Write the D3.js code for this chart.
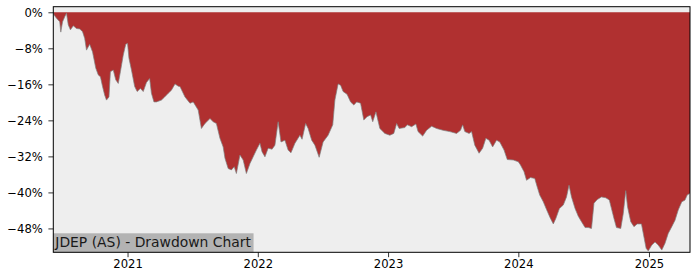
<!DOCTYPE html>
<html>
<head>
<meta charset="utf-8">
<script src="https://cdn.jsdelivr.net/npm/d3@7"></script>
<style>
  body { margin: 0; background: #fff; }
  text { font-family: "DejaVu Sans", sans-serif; }
</style>
</head>
<body>
<svg id="mainSvg" width="700" height="280"></svg>
<script>
  // drawdown readings (date, % below running peak)
  const dates = [
    "2020-06-07","2020-06-09","2020-06-16","2020-06-25","2020-06-28","2020-07-03","2020-07-09","2020-07-14",
    "2020-07-19","2020-07-25","2020-08-02","2020-08-11","2020-08-20","2020-08-28","2020-09-03","2020-09-08",
    "2020-09-17","2020-09-25","2020-10-04","2020-10-11","2020-10-17","2020-10-23","2020-10-29","2020-11-03",
    "2020-11-10","2020-11-14","2020-11-22","2020-11-29","2020-12-06","2020-12-12","2020-12-20","2020-12-27",
    "2021-01-01","2021-01-05","2021-01-12","2021-01-21","2021-01-28","2021-02-06","2021-02-14","2021-02-23",
    "2021-03-04","2021-03-09","2021-03-16","2021-03-23","2021-04-06","2021-04-15","2021-04-25","2021-05-04",
    "2021-05-14","2021-05-23","2021-05-28","2021-06-11","2021-06-25","2021-07-04","2021-07-18","2021-07-27",
    "2021-08-06","2021-08-20","2021-08-29","2021-09-07","2021-09-17","2021-09-26","2021-10-01","2021-10-10",
    "2021-10-19","2021-10-27","2021-11-02","2021-11-12","2021-11-21","2021-11-30","2021-12-10","2021-12-19",
    "2021-12-28","2022-01-07","2022-01-13","2022-01-21","2022-01-30","2022-02-10","2022-02-18","2022-02-27",
    "2022-03-07","2022-03-18","2022-03-27","2022-04-04","2022-04-15","2022-04-29","2022-05-05","2022-05-15",
    "2022-05-22","2022-06-01","2022-06-10","2022-06-22","2022-07-03","2022-07-17","2022-07-30","2022-08-05",
    "2022-08-14","2022-08-21","2022-08-28","2022-09-08","2022-09-18","2022-09-27","2022-10-05","2022-10-16",
    "2022-10-25","2022-11-03","2022-11-13","2022-11-19","2022-11-28","2022-12-09","2022-12-23","2023-01-06",
    "2023-01-17","2023-01-25","2023-02-01","2023-02-17","2023-02-24","2023-03-08","2023-03-20","2023-03-26",
    "2023-04-08","2023-04-19","2023-05-03","2023-05-17","2023-06-04","2023-06-23","2023-07-12","2023-07-23",
    "2023-07-29","2023-08-04","2023-08-16","2023-08-23","2023-09-01","2023-09-13","2023-09-23","2023-10-02",
    "2023-10-11","2023-10-21","2023-11-01","2023-11-10","2023-11-22","2023-12-01","2023-12-18","2024-01-01",
    "2024-01-07","2024-01-17","2024-01-24","2024-02-04","2024-02-16","2024-02-23","2024-03-01","2024-03-11",
    "2024-03-20","2024-03-30","2024-04-08","2024-04-15","2024-04-25","2024-05-06","2024-05-15","2024-05-22",
    "2024-05-29","2024-06-08","2024-06-17","2024-06-26","2024-07-06","2024-07-15","2024-07-24","2024-07-31",
    "2024-08-09","2024-08-21","2024-09-02","2024-09-12","2024-09-18","2024-09-25","2024-10-02","2024-10-14",
    "2024-10-21","2024-10-28","2024-11-02","2024-11-11","2024-11-20","2024-11-29","2024-12-11","2024-12-18",
    "2024-12-24","2024-12-30","2025-01-09","2025-01-18","2025-01-27","2025-02-06","2025-02-15","2025-02-24",
    "2025-03-06","2025-03-15","2025-03-24","2025-04-03","2025-04-12","2025-04-18","2025-04-26"
  ];
  const drawdown = [
    0.0, -0.6, -1.3, -2.1, -4.4, -2.1, -1.0, -0.2,
    -2.8, -3.9, -3.0, -3.6, -3.7, -4.3, -5.8, -8.4,
    -7.1, -8.8, -12.4, -13.9, -14.3, -16.5, -18.4, -19.5,
    -18.8, -13.2, -12.8, -15.0, -15.8, -13.2, -9.5, -7.1,
    -6.9, -10.2, -12.8, -16.5, -17.6, -16.9, -17.6, -15.6,
    -14.7, -18.0, -19.9, -19.9, -19.5, -18.8, -18.0, -17.3,
    -15.9, -16.4, -16.5, -18.8, -20.2, -19.9, -21.7, -25.8,
    -24.7, -23.6, -24.3, -24.7, -28.0, -29.9, -32.4, -34.7,
    -35.0, -34.3, -35.8, -31.7, -32.8, -35.8, -33.6, -32.1,
    -30.6, -29.1, -31.0, -32.1, -30.2, -30.4, -29.5, -24.3,
    -28.8, -28.4, -30.6, -31.2, -29.1, -27.3, -28.2, -24.7,
    -25.8, -28.4, -29.5, -32.2, -28.8, -27.3, -25.0, -19.5,
    -15.9, -16.2, -17.6, -18.2, -19.9, -20.6, -19.9, -20.2,
    -23.9, -23.2, -22.8, -24.3, -22.1, -25.8, -26.9, -27.3,
    -26.9, -24.7, -25.8, -25.6, -25.0, -25.4, -24.8, -26.5,
    -27.5, -26.2, -25.3, -25.8, -26.2, -26.5, -26.9, -26.2,
    -25.0, -26.5, -26.9, -26.5, -29.5, -31.3, -30.2, -28.0,
    -28.4, -29.9, -28.4, -28.8, -30.6, -32.7, -32.8, -33.2,
    -33.9, -35.4, -37.3, -36.7, -36.9, -38.8, -40.6, -42.1,
    -43.8, -45.6, -47.0, -45.8, -43.6, -42.8, -41.0, -38.4,
    -41.0, -43.6, -45.3, -46.5, -47.8, -47.8, -48.0, -42.4,
    -41.6, -41.0, -41.2, -41.7, -43.6, -45.8, -47.8, -48.0,
    -44.7, -39.6, -43.2, -46.5, -47.6, -47.0, -47.0, -49.9,
    -52.4, -53.0, -51.7, -51.0, -51.7, -52.8, -51.3, -49.1,
    -47.6, -46.2, -43.9, -42.1, -41.7, -40.6, -40.2
  ];
  const yTicks = [0, -8, -16, -24, -32, -40, -48];
  const xTickYears = [2021, 2022, 2023, 2024, 2025];
  const chartLabel = "JDEP (AS) - Drawdown Chart";

  const parseDate = d3.utcParse("%Y-%m-%d");
  const data = dates.map((d, i) => ({ date: parseDate(d), value: drawdown[i] }));

  const mainSvg = d3.select("#mainSvg");
  const width = +mainSvg.attr("width");
  const height = +mainSvg.attr("height");
  const margin = { top: 6.7, right: 10, bottom: 27.7, left: 53.3 };
  const innerWidth = width - margin.left - margin.right;
  const innerHeight = height - margin.top - margin.bottom;

  const x = d3.scaleUtc()
    .domain(d3.extent(data, d => d.date))
    .range([0, innerWidth]);
  const y = d3.scaleLinear()
    .domain([-53.3, 1.24])
    .range([innerHeight, 0]);

  const g = mainSvg.append("g")
    .attr("transform", `translate(${margin.left},${margin.top})`);

  g.append("clipPath").attr("id", "plotClip")
    .append("rect").attr("width", innerWidth).attr("height", innerHeight);

  g.append("rect")
    .attr("width", innerWidth)
    .attr("height", innerHeight)
    .attr("fill", "#eeeeee");

  const plot = g.append("g").attr("clip-path", "url(#plotClip)");

  const area = d3.area()
    .x(d => x(d.date))
    .y0(y(0))
    .y1(d => y(d.value));

  plot.append("path")
    .datum(data)
    .attr("fill", "#b03030")
    .attr("d", area);

  const line = d3.line()
    .x(d => x(d.date))
    .y(d => y(d.value));

  plot.append("path")
    .datum(data)
    .attr("fill", "none")
    .attr("stroke", "#808080")
    .attr("stroke-width", 1)
    .attr("stroke-opacity", 0.7)
    .attr("d", line);

  // label box in the lower left corner
  const labelG = g.append("g");
  const labelText = labelG.append("text")
    .attr("x", 2)
    .attr("y", innerHeight - 5.3)
    .attr("font-size", "13.9px")
    .attr("fill", "#1a1a1a")
    .text(chartLabel);
  const bb = labelText.node().getBBox();
  labelG.insert("rect", "text")
    .attr("x", 0)
    .attr("y", innerHeight - 19)
    .attr("width", bb.x + bb.width + 2)
    .attr("height", 19)
    .attr("fill", "#b3b3b3");

  const fmtPct = v => (v === 0 ? "0%" : "\u2212" + Math.abs(v) + "%");

  const yAxis = g.append("g")
    .call(d3.axisLeft(y).tickValues(yTicks).tickFormat(fmtPct).tickSize(4.9).tickPadding(5.6));
  const xAxis = g.append("g")
    .attr("transform", `translate(0,${innerHeight})`)
    .call(d3.axisBottom(x)
      .tickValues(xTickYears.map(yr => new Date(Date.UTC(yr, 0, 1))))
      .tickFormat(d3.utcFormat("%Y"))
      .tickSize(4.9).tickPadding(3));

  [yAxis, xAxis].forEach(ax => {
    ax.select(".domain").remove();
    ax.selectAll("text")
      .attr("font-family", "DejaVu Sans, sans-serif")
      .attr("font-size", "11.6px")
      .attr("fill", "#000");
    ax.selectAll("line").attr("stroke", "#000").attr("stroke-width", 0.8);
  });

  g.append("rect")
    .attr("width", innerWidth)
    .attr("height", innerHeight)
    .attr("fill", "none")
    .attr("stroke", "#000")
    .attr("stroke-width", 1);
</script>
</body>
</html>
